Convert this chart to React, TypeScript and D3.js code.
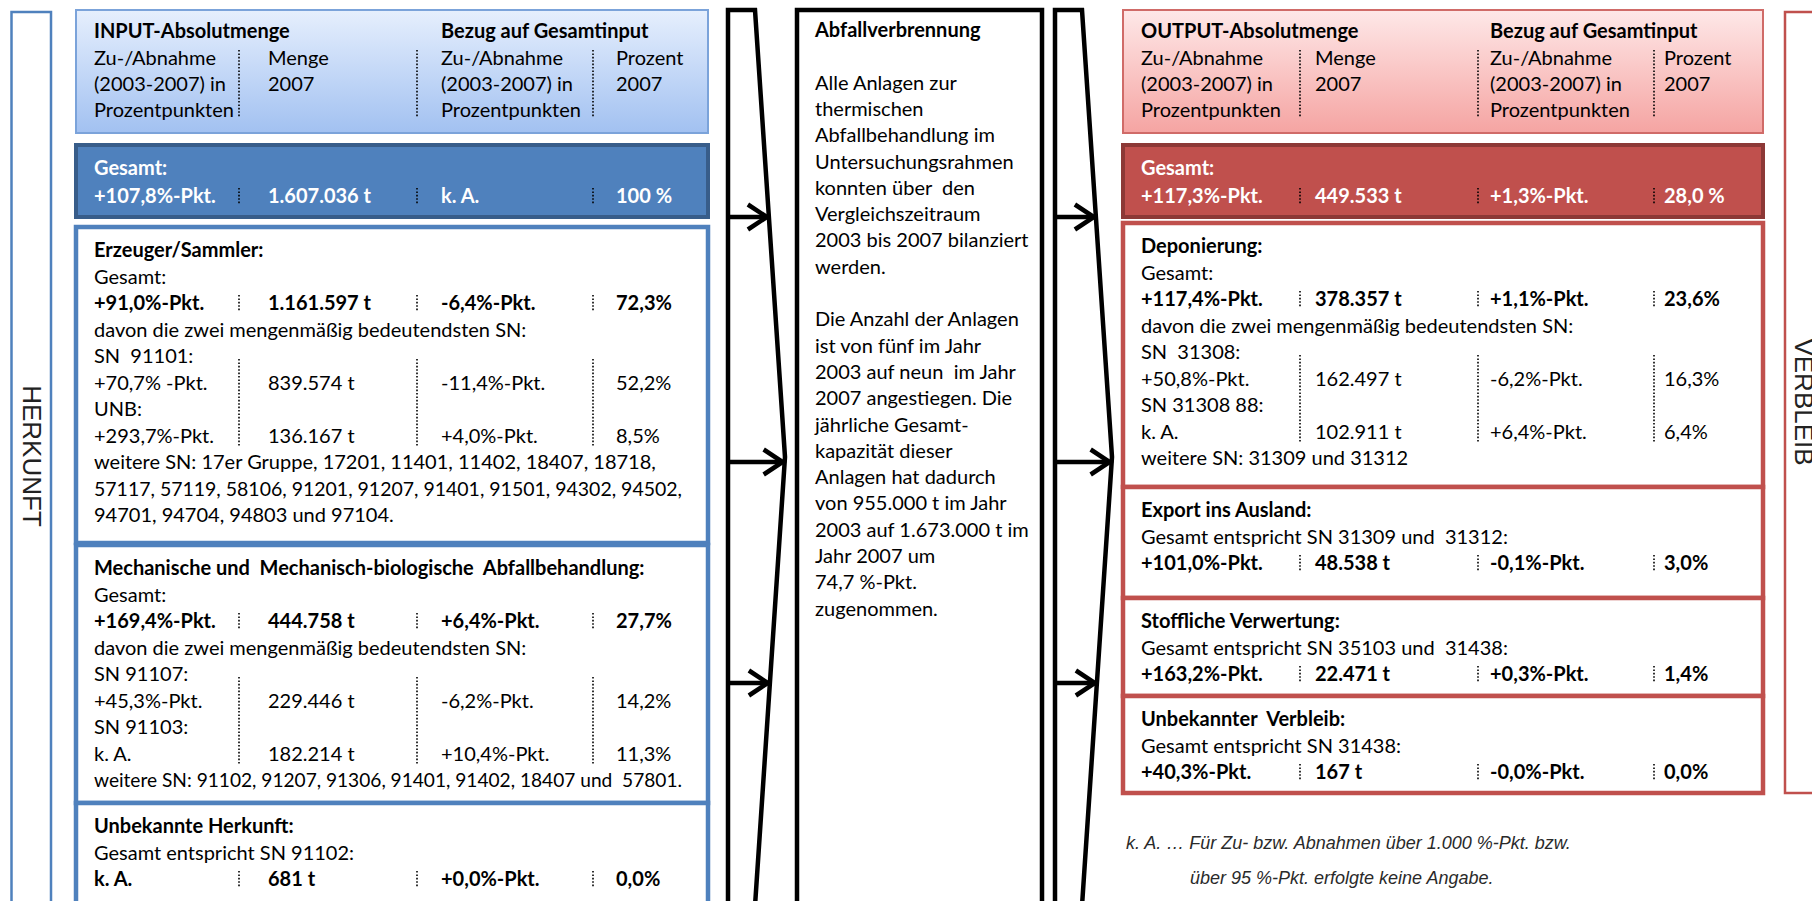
import React, { useLayoutEffect, useRef } from "react";
import * as d3 from "d3";

const W = 1812;
const H = 901;

// ---------- data ----------
const headerColumns = [
  ["Zu-/Abnahme", "(2003-2007) in", "Prozentpunkten"],
  ["Menge", "2007"],
  ["Zu-/Abnahme", "(2003-2007) in", "Prozentpunkten"],
  ["Prozent", "2007"],
];
const inputHeaderTitles = ["INPUT-Absolutmenge", "Bezug auf Gesamtinput"];
const outputHeaderTitles = ["OUTPUT-Absolutmenge", "Bezug auf Gesamtinput"];
const totalLabel = "Gesamt:";
const inputTotal = ["+107,8%-Pkt.", "1.607.036 t", "k. A.", "100 %"];
const outputTotal = ["+117,3%-Pkt.", "449.533 t", "+1,3%-Pkt.", "28,0 %"];
const davonText = "davon die zwei mengenmäßig bedeutendsten SN:";

const erzeugerTitle = "Erzeuger/Sammler:";
const erzeugerGesamt = ["+91,0%-Pkt.", "1.161.597 t", "-6,4%-Pkt.", "72,3%"];
const erzeugerSNLabels = ["SN  91101:", "UNB:"];
const erzeugerSNValues = [
  ["+70,7% -Pkt.", "839.574 t", "-11,4%-Pkt.", "52,2%"],
  ["+293,7%-Pkt.", "136.167 t", "+4,0%-Pkt.", "8,5%"],
];
const erzeugerWeitere = [
  "weitere SN: 17er Gruppe, 17201, 11401, 11402, 18407, 18718,",
  "57117, 57119, 58106, 91201, 91207, 91401, 91501, 94302, 94502,",
  "94701, 94704, 94803 und 97104.",
];

const mbaTitle = "Mechanische und  Mechanisch-biologische  Abfallbehandlung:";
const mbaGesamt = ["+169,4%-Pkt.", "444.758 t", "+6,4%-Pkt.", "27,7%"];
const mbaSNLabels = ["SN 91107:", "SN 91103:"];
const mbaSNValues = [
  ["+45,3%-Pkt.", "229.446 t", "-6,2%-Pkt.", "14,2%"],
  ["k. A.", "182.214 t", "+10,4%-Pkt.", "11,3%"],
];
const mbaWeitere = ["weitere SN: 91102, 91207, 91306, 91401, 91402, 18407 und  57801."];

const unbHerkunftTitle = "Unbekannte Herkunft:";
const unbHerkunftIntro = "Gesamt entspricht SN 91102:";
const unbHerkunftGesamt = ["k. A.", "681 t", "+0,0%-Pkt.", "0,0%"];

const depTitle = "Deponierung:";
const depGesamt = ["+117,4%-Pkt.", "378.357 t", "+1,1%-Pkt.", "23,6%"];
const depSNLabels = ["SN  31308:", "SN 31308 88:"];
const depSNValues = [
  ["+50,8%-Pkt.", "162.497 t", "-6,2%-Pkt.", "16,3%"],
  ["k. A.", "102.911 t", "+6,4%-Pkt.", "6,4%"],
];
const depWeitere = ["weitere SN: 31309 und 31312"];

const exportTitle = "Export ins Ausland:";
const exportIntro = "Gesamt entspricht SN 31309 und  31312:";
const exportGesamt = ["+101,0%-Pkt.", "48.538 t", "-0,1%-Pkt.", "3,0%"];

const stoffTitle = "Stoffliche Verwertung:";
const stoffIntro = "Gesamt entspricht SN 35103 und  31438:";
const stoffGesamt = ["+163,2%-Pkt.", "22.471 t", "+0,3%-Pkt.", "1,4%"];

const unbVerbleibTitle = "Unbekannter  Verbleib:";
const unbVerbleibIntro = "Gesamt entspricht SN 31438:";
const unbVerbleibGesamt = ["+40,3%-Pkt.", "167 t", "-0,0%-Pkt.", "0,0%"];

const incinerationTitle = "Abfallverbrennung";
const incinerationText = [
  "Alle Anlagen zur",
  "thermischen",
  "Abfallbehandlung im",
  "Untersuchungsrahmen",
  "konnten über  den",
  "Vergleichszeitraum",
  "2003 bis 2007 bilanziert",
  "werden.",
  "",
  "Die Anzahl der Anlagen",
  "ist von fünf im Jahr",
  "2003 auf neun  im Jahr",
  "2007 angestiegen. Die",
  "jährliche Gesamt-",
  "kapazität dieser",
  "Anlagen hat dadurch",
  "von 955.000 t im Jahr",
  "2003 auf 1.673.000 t im",
  "Jahr 2007 um",
  "74,7 %-Pkt.",
  "zugenommen.",
];

const footnoteLines = [
  "k. A. … Für Zu- bzw. Abnahmen über 1.000 %-Pkt. bzw.",
  "über 95 %-Pkt. erfolgte keine Angabe.",
];
const sideLabels = ["HERKUNFT", "VERBLEIB"];

// ---------- sections built from data ----------
type Sec = {
  title: string;
  intro: string;
  total: string[];
  snLabels?: string[];
  snValues?: string[][];
  more?: string[];
};

const inputSections: Sec[] = [
  { title: erzeugerTitle, intro: totalLabel, total: erzeugerGesamt, snLabels: erzeugerSNLabels, snValues: erzeugerSNValues, more: erzeugerWeitere },
  { title: mbaTitle, intro: totalLabel, total: mbaGesamt, snLabels: mbaSNLabels, snValues: mbaSNValues, more: mbaWeitere },
  { title: unbHerkunftTitle, intro: unbHerkunftIntro, total: unbHerkunftGesamt },
];
const outputSections: Sec[] = [
  { title: depTitle, intro: totalLabel, total: depGesamt, snLabels: depSNLabels, snValues: depSNValues, more: depWeitere },
  { title: exportTitle, intro: exportIntro, total: exportGesamt },
  { title: stoffTitle, intro: stoffIntro, total: stoffGesamt },
  { title: unbVerbleibTitle, intro: unbVerbleibIntro, total: unbVerbleibGesamt },
];

// ---------- layout ----------
const FONT = "Lato, 'Open Sans', sans-serif";
const FS = 20;
const STEP = 26.5;

type Side = {
  x: number;
  w: number;
  cols: number[];
  seps: number[];
  maxText: number;
  stroke: string;
  headerStroke: string;
  grad: string;
  totalFill: string;
  totalStroke: string;
  boxes: number[][];
};

const leftSide: Side = {
  x: 76,
  w: 632,
  cols: [94, 268, 441, 616],
  seps: [239, 417, 593],
  maxText: 588,
  stroke: "#4f81bd",
  headerStroke: "#7ba3da",
  grad: "gBlue",
  totalFill: "#4f81bd",
  totalStroke: "#385d8a",
  boxes: [
    [227, 543],
    [545, 803],
    [803, 908],
  ],
};
const rightSide: Side = {
  x: 1123,
  w: 640,
  cols: [1141, 1315, 1490, 1664],
  seps: [1300, 1478, 1654],
  maxText: 596,
  stroke: "#c0504d",
  headerStroke: "#d06b68",
  grad: "gRed",
  totalFill: "#c0504d",
  totalStroke: "#8c3836",
  boxes: [
    [223, 487],
    [487, 598],
    [598, 696],
    [696, 793],
  ],
};

type Line = { kind: string; text?: string; values?: string[] };

function buildLines(sec: Sec): Line[] {
  const lines: Line[] = [];
  lines.push({ kind: "title", text: sec.title });
  lines.push({ kind: "text", text: sec.intro });
  lines.push({ kind: "total", values: sec.total });
  if (sec.snLabels && sec.snValues) {
    lines.push({ kind: "text", text: davonText });
    sec.snLabels.forEach((l, i) => {
      lines.push({ kind: "snlabel", text: l });
      lines.push({ kind: "snrow", values: sec.snValues![i] });
    });
    (sec.more || []).forEach((t) => lines.push({ kind: "text", text: t }));
  }
  return lines;
}

const dotted = { stroke: "#000", strokeWidth: 1.6, strokeDasharray: "1.6,1.8" };

function Row({ side, y, values, bold, color, sepTop, sepBottom }: any) {
  return (
    <g>
      {values.map((v: string, i: number) => (
        <text key={i} x={side.cols[i]} y={y} fontWeight={bold ? 700 : 400} fill={color} style={{ whiteSpace: "pre" }}>
          {v}
        </text>
      ))}
      {sepTop != null &&
        side.seps.map((sx: number, i: number) => (
          <line key={"s" + i} x1={sx} x2={sx} y1={sepTop} y2={sepBottom} {...dotted} />
        ))}
    </g>
  );
}

function Section({ side, sec, top }: { side: Side; sec: Sec; top: number }) {
  const lines = buildLines(sec);
  const y = d3.scaleLinear().domain([0, 1]).range([top + 30, top + 30 + STEP]);
  const snIdx = lines.map((l, i) => (l.kind === "snlabel" || l.kind === "snrow" ? i : -1)).filter((i) => i >= 0);
  return (
    <g>
      {lines.map((l, i) => {
        if (l.kind === "title" || l.kind === "text" || l.kind === "snlabel") {
          return (
            <text
              key={i}
              x={side.cols[0]}
              y={y(i)}
              data-max={side.maxText}
              fontWeight={l.kind === "title" ? 700 : 400}
              style={{ whiteSpace: "pre" }}
            >
              {l.text}
            </text>
          );
        }
        if (l.kind === "total") {
          return <Row key={i} side={side} y={y(i)} values={l.values} bold color="#000" sepTop={y(i) - 15} sepBottom={y(i) + 1} />;
        }
        return <Row key={i} side={side} y={y(i)} values={l.values} bold={false} color="#000" />;
      })}
      {snIdx.length > 0 &&
        side.seps.map((sx, i) => (
          <line key={"ls" + i} x1={sx} x2={sx} y1={y(snIdx[0]) - 4} y2={y(snIdx[snIdx.length - 1]) + 4} {...dotted} />
        ))}
    </g>
  );
}

function Panel({ side, titles, total, sections }: { side: Side; titles: string[]; total: string[]; sections: Sec[] }) {
  const hy = d3.scaleLinear().domain([0, 1]).range([65, 65 + 26]);
  return (
    <g fontFamily={FONT} fontSize={FS}>
      {/* header */}
      <rect x={side.x} y={10} width={side.w} height={123} fill={`url(#${side.grad})`} stroke={side.headerStroke} strokeWidth={2} />
      <text x={side.cols[0]} y={38} fontWeight={700}>
        {titles[0]}
      </text>
      <text x={side.cols[2]} y={38} fontWeight={700}>
        {titles[1]}
      </text>
      {headerColumns.map((col, ci) =>
        col.map((t, li) => (
          <text key={ci + "-" + li} x={side.cols[ci]} y={hy(li)}>
            {t}
          </text>
        ))
      )}
      {side.seps.map((sx, i) => (
        <line key={"hs" + i} x1={sx} x2={sx} y1={50} y2={118} {...dotted} />
      ))}
      {/* total */}
      <rect x={side.x} y={145} width={side.w} height={72} fill={side.totalFill} stroke={side.totalStroke} strokeWidth={4} />
      <text x={side.cols[0]} y={175} fontWeight={700} fill="#fff">
        {totalLabel}
      </text>
      <Row side={side} y={203} values={total} bold color="#fff" sepTop={188} sepBottom={204} />
      {/* boxes */}
      {sections.map((s, i) => (
        <rect
          key={"b" + i}
          x={side.x}
          y={side.boxes[i][0]}
          width={side.w}
          height={side.boxes[i][1] - side.boxes[i][0]}
          fill="#fff"
          stroke={side.stroke}
          strokeWidth={4.5}
        />
      ))}
      {sections.map((s, i) => (
        <Section key={"s" + i} side={side} sec={s} top={side.boxes[i][0]} />
      ))}
    </g>
  );
}

function Chevron({ x0 }: { x0: number }) {
  const top = 10;
  const bottom = 906;
  const mid = 457;
  const line = d3.line();
  const outline = line([
    [x0, bottom],
    [x0, top],
    [x0 + 27, top],
    [x0 + 57, mid],
    [x0 + 27, bottom],
  ]) as string;
  const slantX = (yy: number) => {
    const t = yy <= mid ? (yy - top) / (mid - top) : (bottom - yy) / (bottom - mid);
    return x0 + 27 + 30 * t;
  };
  const arrowYs = [217, 462, 683];
  return (
    <g fill="none" stroke="#000" strokeWidth={4.5}>
      <path d={outline} strokeLinejoin="miter" />
      {arrowYs.map((ay, i) => {
        const tip = slantX(ay) - 2;
        return (
          <g key={i}>
            <path d={line([[x0, ay], [tip, ay]]) as string} />
            <path d={line([[tip - 19, ay - 12.5], [tip, ay], [tip - 19, ay + 12.5]]) as string} strokeLinejoin="miter" />
          </g>
        );
      })}
    </g>
  );
}

export default function App() {
  const svgRef = useRef<SVGSVGElement>(null);
  const my = d3.scaleLinear().domain([0, 1]).range([37, 37 + 26.3]);

  useLayoutEffect(() => {
    const svg = svgRef.current;
    if (!svg) return;
    d3.select(svg)
      .selectAll<SVGTextElement, unknown>("text[data-max]")
      .each(function () {
        const max = +(this.getAttribute("data-max") || 0);
        const len = this.getComputedTextLength();
        if (max && len > max) {
          this.setAttribute("textLength", String(max));
          this.setAttribute("lengthAdjust", "spacingAndGlyphs");
        }
      });
  }, []);

  return (
    <div style={{ position: "absolute", left: 0, top: 0, width: W, height: H, overflow: "hidden", background: "#fff" }}>
      <svg ref={svgRef} width={W} height={H} style={{ display: "block" }}>
        <defs>
          <linearGradient id="gBlue" x1="0" y1="0" x2="0" y2="1">
            <stop offset="0" stopColor="#e6effd" />
            <stop offset="1" stopColor="#a2c1f1" />
          </linearGradient>
          <linearGradient id="gRed" x1="0" y1="0" x2="0" y2="1">
            <stop offset="0" stopColor="#fee8e8" />
            <stop offset="1" stopColor="#f5a4a2" />
          </linearGradient>
        </defs>
        <rect width={W} height={H} fill="#fff" />

        {/* side label boxes */}
        <rect x={11.5} y={12} width={39.5} height={900} fill="#fff" stroke="#4f81bd" strokeWidth={2.5} />
        <text
          transform={`translate(23,456) rotate(90)`}
          textAnchor="middle"
          fontFamily="'Liberation Sans', Arial, sans-serif"
          fontSize={26}
          fill="#222"
        >
          {sideLabels[0]}
        </text>
        <rect x={1785} y={12} width={60} height={781} fill="#fff" stroke="#c0504d" strokeWidth={2.5} />
        <text
          transform={`translate(1795,402) rotate(90)`}
          textAnchor="middle"
          fontFamily="'Liberation Sans', Arial, sans-serif"
          fontSize={26}
          fill="#222"
        >
          {sideLabels[1]}
        </text>

        <Panel side={leftSide} titles={inputHeaderTitles} total={inputTotal} sections={inputSections} />
        <Panel side={rightSide} titles={outputHeaderTitles} total={outputTotal} sections={outputSections} />

        <Chevron x0={728} />
        <Chevron x0={1055} />

        {/* middle box */}
        <rect x={797} y={10} width={245} height={900} fill="#fff" stroke="#000" strokeWidth={4.5} />
        <g fontFamily={FONT} fontSize={FS}>
          <text x={815} y={my(0)} fontWeight={700}>
            {incinerationTitle}
          </text>
          {incinerationText.map((t, i) => (
            <text key={i} x={815} y={my(i + 2)} style={{ whiteSpace: "pre" }}>
              {t}
            </text>
          ))}
        </g>

        {/* footnote */}
        <g fontFamily="'Liberation Sans', Arial, sans-serif" fontSize={18} fontStyle="italic" fill="#2a2a2a">
          <text x={1126} y={849}>
            {footnoteLines[0]}
          </text>
          <text x={1190} y={884}>
            {footnoteLines[1]}
          </text>
        </g>
      </svg>
    </div>
  );
}
